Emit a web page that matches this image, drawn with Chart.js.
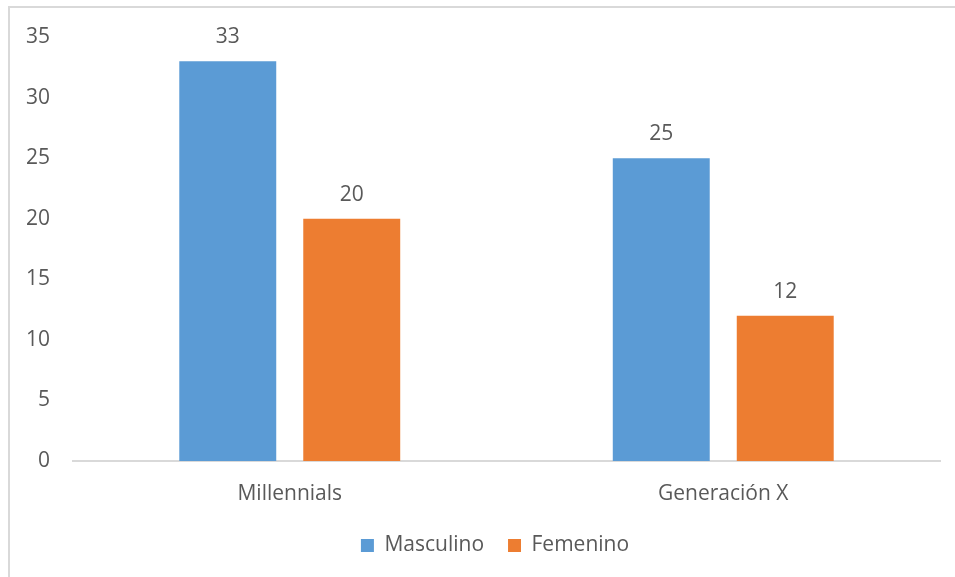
<!DOCTYPE html>
<html lang="es">
<head>
    <meta charset="UTF-8">
    <title>Masculino / Femenino por generación</title>
    <style>
        body {
            margin: 0;
            padding: 0;
            background-color: #fff;
            overflow: hidden;
        }

        #wrap {
            position: relative;
            width: 955px;
            height: 577px;
        }

        /* marco del gráfico */
        #frame {
            position: absolute;
            left: 8px;
            top: 6px;
            right: -10px;
            bottom: -10px;
            border-top: 2px solid #d9d9d9;
            border-left: 2px solid #d9d9d9;
        }

        canvas {
            position: absolute;
            left: 0;
            top: 0;
        }
    </style>
</head>
<body>
    <div id="wrap">
        <div id="frame"></div>
        <canvas id="bar-chart" width="955" height="577"></canvas>
    </div>

    <script src="https://cdn.jsdelivr.net/npm/chart.js"></script>
    <script>
        var categorias = ['Millennials', 'Generación X'];
        var masculino = [33, 25];
        var femenino = [20, 12];
        var ticksY = [0, 5, 10, 15, 20, 25, 30, 35];

        var textColor = '#595959';
        var fuente = "'Open Sans', 'DejaVu Sans', sans-serif";

        // Escribe el valor encima de cada barra
        var etiquetas = {
            id: 'etiquetas',
            afterDatasetsDraw: function(chart) {
                var ctx = chart.ctx;
                ctx.save();
                ctx.fillStyle = textColor;
                ctx.font = '21px ' + fuente;
                ctx.textAlign = 'center';
                ctx.textBaseline = 'middle';
                chart.data.datasets.forEach(function(ds, i) {
                    chart.getDatasetMeta(i).data.forEach(function(bar, j) {
                        ctx.fillText(ds.data[j], bar.x, bar.y - 24);
                    });
                });
                ctx.restore();
            }
        };

        // La leyenda va un poco a la derecha del centro del lienzo
        var moverLeyenda = {
            id: 'moverLeyenda',
            afterLayout: function(chart) {
                if (chart.legend) {
                    chart.legend.left += 25;
                    chart.legend.right += 25;
                }
            }
        };

        Chart.defaults.font.family = fuente;
        Chart.defaults.font.size = 21;
        Chart.defaults.color = textColor;

        var ctxBar = document.getElementById('bar-chart').getContext('2d');
        new Chart(ctxBar, {
            type: 'bar',
            data: {
                labels: categorias,
                datasets: [{
                    label: 'Masculino',
                    data: masculino,
                    backgroundColor: '#5b9bd5'
                }, {
                    label: 'Femenino',
                    data: femenino,
                    backgroundColor: '#ed7d31'
                }]
            },
            options: {
                responsive: false,
                animation: false,
                categoryPercentage: 0.572,
                barPercentage: 0.782,
                layout: {
                    padding: { top: 37, right: 15, left: 0, bottom: 11 }
                },
                plugins: {
                    legend: {
                        position: 'bottom',
                        labels: {
                            boxWidth: 13,
                            boxHeight: 13,
                            padding: 24,
                            font: { size: 21 }
                        }
                    },
                    tooltip: { enabled: false }
                },
                scales: {
                    x: {
                        grid: { display: false },
                        border: { display: true, color: '#d9d9d9', width: 2 },
                        ticks: { padding: 12 },
                        afterFit: function(scale) {
                            scale.height = 50;
                        }
                    },
                    y: {
                        min: 0,
                        max: 35,
                        afterBuildTicks: function(scale) {
                            scale.ticks = ticksY.map(function(v) { return { value: v }; });
                        },
                        afterFit: function(scale) {
                            scale.width = 73;
                        },
                        grid: { display: false, drawTicks: false },
                        border: { display: false },
                        ticks: { padding: 23 }
                    }
                }
            },
            plugins: [etiquetas, moverLeyenda]
        });
    </script>
</body>
</html>
